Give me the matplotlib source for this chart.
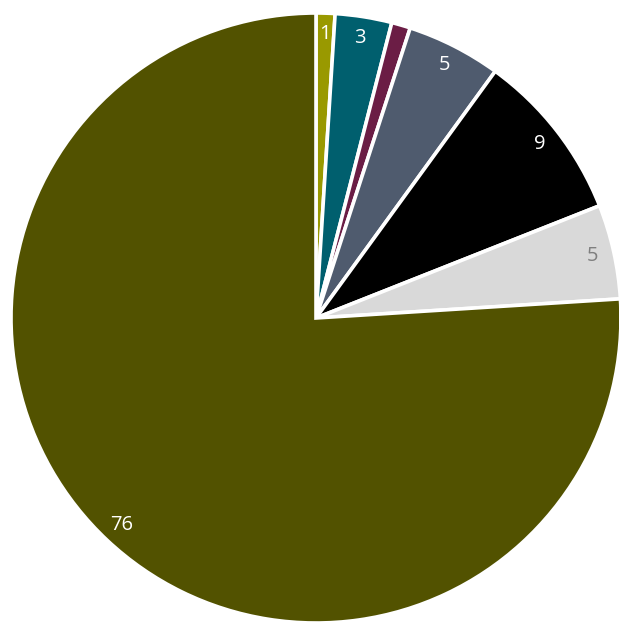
import matplotlib
matplotlib.use("Agg")
import matplotlib.pyplot as plt

values = [1, 3, 1, 5, 9, 5, 76]
labels = ["1", "3", "", "5", "9", "5", "76"]
colors = ["#999900", "#005f6e", "#6b1d45", "#4f5b6e", "#000000", "#d9d9d9", "#525200"]
label_colors = ["white", "white", "white", "white", "white", "#7f7f7f", "white"]

W, H = 619, 622
fig = plt.figure(figsize=(W / 100, H / 100), dpi=100)
ax = fig.add_axes([0, 0, 1, 1])

cx, cy, r = 316, 318, 305
wedges, texts = ax.pie(
    values,
    labels=labels,
    colors=colors,
    startangle=90,
    counterclock=False,
    labeldistance=0.93,
    radius=1.0,
    wedgeprops=dict(edgecolor="white", linewidth=2.6),
    textprops=dict(fontsize=14.5, family=["Open Sans", "DejaVu Sans"]),
)
for t, c in zip(texts, label_colors):
    t.set_color(c)
    t.set_ha("center")
    t.set_va("center")

ax.set_xlim(-cx / r, (W - cx) / r)
ax.set_ylim(-(H - cy) / r, cy / r)
ax.set_aspect("auto")
ax.axis("off")

fig.savefig("out.png", dpi=100, facecolor="white")
